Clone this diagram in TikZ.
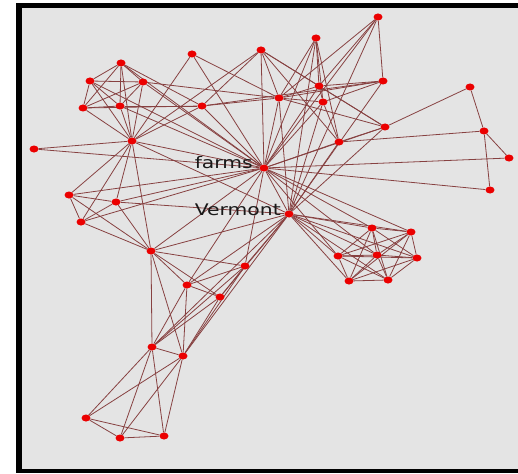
\documentclass[tikz,border=0pt]{standalone}
\usepackage{fontspec}
\newfontfamily\labelfont{DejaVu Sans}
\usetikzlibrary{shapes.geometric}
\pgfdeclarelayer{bg}
\pgfsetlayers{bg,main}
\definecolor{panel}{RGB}{228,228,228}
\definecolor{dotred}{RGB}{235,0,0}
\definecolor{linkbrown}{RGB}{135,65,65}

\begin{document}
\begin{tikzpicture}[x=1pt,y=-1pt,
   vtx/.style={ellipse,fill=dotred,inner sep=0,minimum width=9pt,minimum height=7pt},
   link/.style={draw=linkbrown,line width=0.8pt},
   word/.style={font=\labelfont\fontsize{16}{16}\selectfont,text=black!90,inner sep=0,anchor=base east,xscale=1.27}]
   \useasboundingbox (0,0) rectangle (518,473);

   % word nodes
   \foreach \n/\x/\y in {a1/121/63, a2/90/81, a3/143/82, a4/83/108, a5/120/106, hub/132/141,
      t1/192/54, t2/202/106, t3/261/50, t4/279/98, t5/316/38, t6/378/17, t7/319/86, t8/323/102,
      t9/383/81, t10/385/127, t11/339/142, r1/470/87, r2/484/131, r3/509/158, r4/490/190,
      l0/34/149, l1/69/195, l2/116/202, l3/81/222,
      m1/151/251, m2/187/285, m3/220/297, m4/245/266, m5/152/347, m6/183/356,
      m7/86/418, m8/120/438, m9/164/436,
      farms/264/168, vermont/289/214,
      c1/372/228, c2/411/232, c3/338/256, c4/377/255, c5/417/258, c6/349/281, c7/388/280}
      \node[vtx] (\n) at (\x,\y) {};

   \begin{pgfonlayer}{bg}
   \fill[white] (0,0) rectangle (518,473);
   \fill[black] (16,3) rectangle (518,473);
   \fill[panel] (22,8) rectangle (518,469);
   % co-occurrence links
   \foreach \a/\b in {a1/a2, a1/a3, a1/a4, a1/a5, a1/hub, a2/a3, a2/a4, a2/a5, a2/hub, a3/a4, a3/a5, a3/hub,
      a4/a5, a4/hub, a5/hub, a4/t2, a5/t2, a1/farms, a2/farms, a3/farms, a5/farms, a1/t2, a3/t4,
      hub/t1, hub/farms, hub/t2, hub/t3, hub/l0, hub/l1, hub/l2, hub/l3, hub/m1, hub/vermont,
      t1/farms, t1/t4, t2/t3, t2/t4, t2/t9, t2/farms,
      t3/t4, t3/farms, t3/t7, t3/t11, t3/t10,
      t4/t5, t4/t6, t4/t9, t4/t7, t4/t8, t4/farms, t4/vermont, t4/t10,
      t5/t7, t5/t8, t5/farms, t5/vermont, t5/t11,
      t6/t9, t6/t7, t6/farms, t6/vermont,
      t7/t8, t7/t9, t7/farms, t7/t10, t8/t11, t8/farms, t8/vermont, t8/t9, t9/vermont,
      t10/r1, t10/farms, t10/vermont, t11/r2, t11/farms, t11/vermont, t11/t10,
      r1/r2, r2/r3, r2/r4, farms/r3, farms/r4,
      l0/farms, l1/l2, l1/l3, l2/l3, l1/farms, l2/farms, l3/farms, l1/m1, l3/m1, l2/m1, l2/vermont,
      m1/m2, m1/m3, m1/m5, m1/m6, m1/vermont, m1/farms, m1/m4,
      m2/m3, m2/m4, m2/m5, m2/m6, m2/vermont, m2/farms,
      m3/m4, m3/m5, m3/m6, m3/vermont,
      m4/farms, m4/vermont, m4/m5, m4/m6,
      m5/m6, m5/m7, m5/m8, m5/m9, m5/vermont, m6/m7, m6/m8, m6/m9, m6/vermont,
      m7/m8, m7/m9, m8/m9, farms/vermont,
      vermont/c1, vermont/c2, vermont/c3, vermont/c4, vermont/c5, vermont/c6, vermont/c7,
      farms/c1, farms/c2, farms/c3, farms/c4,
      c1/c2, c1/c3, c1/c4, c1/c5, c1/c6, c1/c7, c2/c3, c2/c4, c2/c5, c2/c6, c2/c7,
      c3/c4, c3/c5, c3/c6, c3/c7, c4/c5, c4/c6, c4/c7, c5/c6, c5/c7, c6/c7}
      \draw[link] (\a) -- (\b);
   \end{pgfonlayer}

   \node[word] (farmslabel) at (253,168) {farms};
   \node[word] (vermontlabel) at (281,215) {Vermont};
\end{tikzpicture}
\end{document}
